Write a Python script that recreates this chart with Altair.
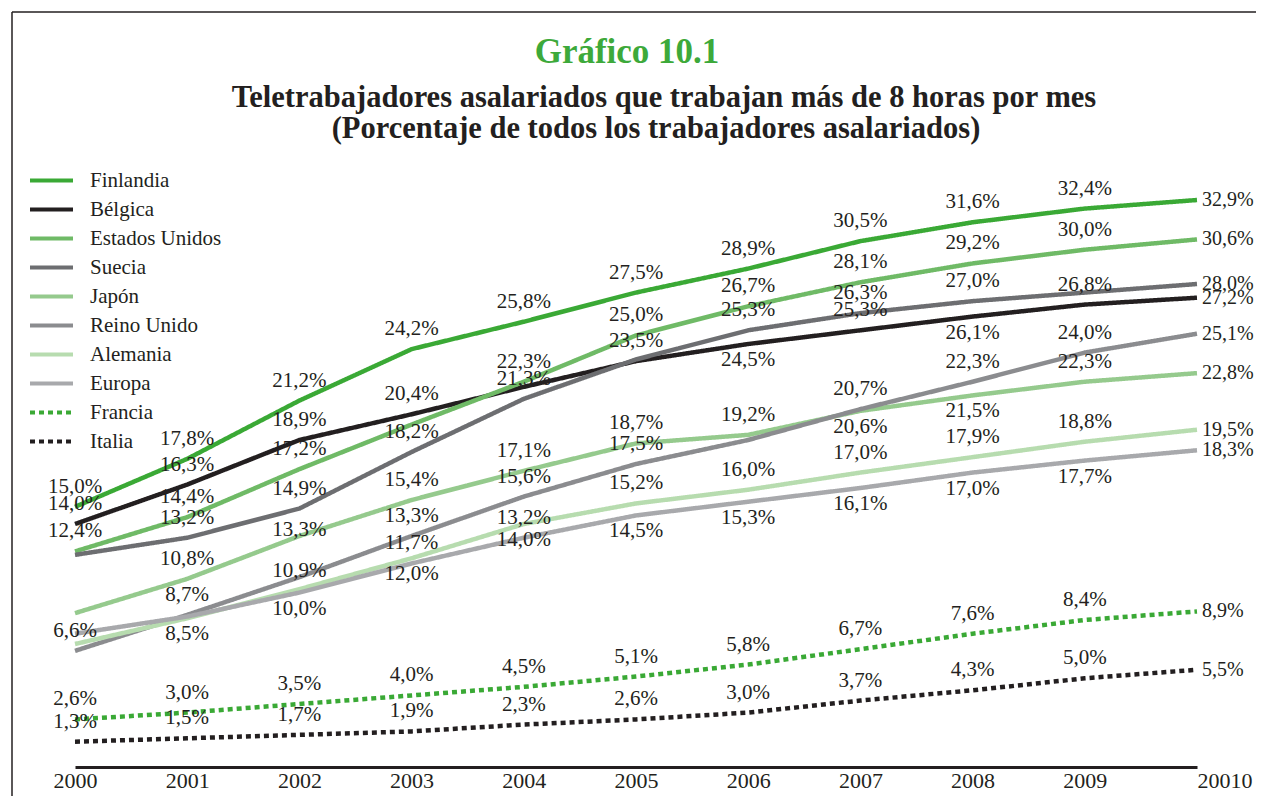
import altair as alt
import pandas as pd

# ---------------- data ----------------
anios = ["2000", "2001", "2002", "2003", "2004", "2005", "2006", "2007", "2008", "2009", "20010"]

series = ["Finlandia", "Bélgica", "Estados Unidos", "Suecia", "Japón",
          "Reino Unido", "Alemania", "Europa", "Francia", "Italia"]

finlandia      = [15.0, 17.8, 21.2, 24.2, 25.8, 27.5, 28.9, 30.5, 31.6, 32.4, 32.9]
belgica        = [14.0, 16.3, 18.9, 20.4, 22.0, 23.5, 24.5, 25.3, 26.1, 26.8, 27.2]
estados_unidos = [12.4, 14.4, 17.2, 19.8, 22.3, 25.0, 26.7, 28.1, 29.2, 30.0, 30.6]
suecia         = [12.2, 13.2, 14.9, 18.2, 21.3, 23.6, 25.3, 26.3, 27.0, 27.5, 28.0]
japon          = [8.8, 10.8, 13.3, 15.4, 17.1, 18.7, 19.2, 20.6, 21.5, 22.3, 22.8]
reino_unido    = [6.6, 8.7, 10.9, 13.3, 15.6, 17.5, 18.9, 20.7, 22.3, 24.0, 25.1]
alemania       = [7.0, 8.5, 10.2, 12.0, 14.0, 15.2, 16.0, 17.0, 17.9, 18.8, 19.5]
europa         = [7.6, 8.6, 10.0, 11.7, 13.2, 14.5, 15.3, 16.1, 17.0, 17.7, 18.3]
francia        = [2.6, 3.0, 3.5, 4.0, 4.5, 5.1, 5.8, 6.7, 7.6, 8.4, 8.9]
italia         = [1.3, 1.5, 1.7, 1.9, 2.3, 2.6, 3.0, 3.7, 4.3, 5.0, 5.5]

valores = [finlandia, belgica, estados_unidos, suecia, japon,
           reino_unido, alemania, europa, francia, italia]

# points whose value label is not printed in the reference
sin_etiqueta = {("Suecia", "2000"), ("Japón", "2000"), ("Alemania", "2000"), ("Europa", "2000"),
                ("Europa", "2001"), ("Alemania", "2002"), ("Estados Unidos", "2003"),
                ("Bélgica", "2004"), ("Suecia", "2005"), ("Reino Unido", "2006"), ("Suecia", "2009")}

# ---------------- styles / layout ----------------
colores = ["#3aa935", "#231f20", "#6fba66", "#6d6e71", "#95ca8d",
           "#8b8c8f", "#b7dcaf", "#a8a9ac", "#3aa935", "#231f20"]
trazos = [[1, 0]] * 8 + [[5, 4], [5, 4]]

# labels drawn under their line instead of above it
debajo = {("Bélgica", "2006"), ("Bélgica", "2008"), ("Japón", "2007"), ("Japón", "2008"),
          ("Alemania", "2001"), ("Alemania", "2003"), ("Alemania", "2004"),
          ("Europa", "2002"), ("Europa", "2005"), ("Europa", "2006"), ("Europa", "2007"),
          ("Europa", "2008"), ("Europa", "2009")}
sobre = {("Japón", "2002"), ("Reino Unido", "2002")}

FONT = "Liberation Serif"
INK = "#231f20"

filas = []
for s, vals in zip(series, valores):
    for a, v in zip(anios, vals):
        if a == anios[-1]:
            pos = "derecha"
        elif (s, a) in debajo:
            pos = "debajo"
        elif (s, a) in sobre:
            pos = "sobre"
        else:
            pos = "encima"
        filas.append({
            "Serie": s, "Año": a, "Valor": v,
            "Etiqueta": f"{v:.1f}".replace(".", ",") + "%",
            "pos": pos,
            "mostrar": (s, a) not in sin_etiqueta,
        })
df = pd.DataFrame(filas)

leyenda = alt.Legend(
    title=None, orient="none", legendX=-47, legendY=2,
    symbolType="stroke", symbolSize=1849, symbolStrokeWidth=4,
    clipHeight=29, rowPadding=0, padding=0,
    labelFont=FONT, labelFontSize=21, labelColor=INK, labelOffset=15, labelLimit=0,
)

x_enc = alt.X(
    "Año:O", sort=anios,
    scale=alt.Scale(type="point", padding=0),
    axis=alt.Axis(
        title=None, labelAngle=0, ticks=False, grid=False,
        domainWidth=3, domainColor=INK, offset=3,
        labelFont=FONT, labelFontSize=22, labelColor=INK, labelPadding=3,
        labelOverlap=False,
        labelAlign={"condition": {"test": "datum.value === '20010'", "value": "left"}, "value": "center"},
    ),
)
y_enc = alt.Y("Valor:Q", scale=alt.Scale(domain=[0, 35], nice=False, zero=True), axis=None)

base = alt.Chart(df)

lineas = base.mark_line(strokeWidth=4.5, strokeCap="butt").encode(
    x=x_enc,
    y=y_enc,
    color=alt.Color("Serie:N", scale=alt.Scale(domain=series, range=colores), legend=leyenda),
    strokeDash=alt.StrokeDash("Serie:N", scale=alt.Scale(domain=series, range=trazos), legend=leyenda),
)

txt = dict(font=FONT, fontSize=21, color=INK, baseline="middle")
etq = base.transform_filter("datum.mostrar")
enc_t = dict(x=x_enc, y=y_enc, text="Etiqueta:N")

encima = etq.transform_filter("datum.pos == 'encima'").mark_text(dy=-20, **txt).encode(**enc_t)
debajo_l = etq.transform_filter("datum.pos == 'debajo'").mark_text(dy=16, **txt).encode(**enc_t)
sobre_l = etq.transform_filter("datum.pos == 'sobre'").mark_text(dy=-6, **txt).encode(**enc_t)
derecha = etq.transform_filter("datum.pos == 'derecha'").mark_text(
    align="left", dx=5, dy=0, font=FONT, fontSize=20, color=INK, baseline="middle"
).encode(**enc_t)

# titles (text marks, placed relative to the plot area)
titulo = alt.Chart(pd.DataFrame({"t": ["Gráfico 10.1"]})).mark_text(
    font=FONT, fontSize=35, fontWeight="bold", color="#3da93a", baseline="alphabetic", align="center"
).encode(text="t:N", x=alt.value(552), y=alt.value(-101))
sub1 = alt.Chart(pd.DataFrame({"t": ["Teletrabajadores asalariados que trabajan más de 8 horas por mes"]})).mark_text(
    font=FONT, fontSize=30.5, fontWeight="bold", color=INK, baseline="alphabetic", align="center"
).encode(text="t:N", x=alt.value(589), y=alt.value(-57))
sub2 = alt.Chart(pd.DataFrame({"t": ["(Porcentaje de todos los trabajadores asalariados)"]})).mark_text(
    font=FONT, fontSize=30.5, fontWeight="bold", color=INK, baseline="alphabetic", align="center"
).encode(text="t:N", x=alt.value(581), y=alt.value(-26))

# partial frame (top and left border of the figure box)
marco = pd.DataFrame({"k": [0]})
borde_sup = alt.Chart(marco).mark_rule(color=INK, strokeWidth=1.5).encode(
    x=alt.value(-63), x2=alt.value(1200), y=alt.value(-152))
borde_izq = alt.Chart(marco).mark_rule(color=INK, strokeWidth=1.5).encode(
    x=alt.value(-63), y=alt.value(-152), y2=alt.value(640))

chart = alt.layer(
    borde_sup, borde_izq, titulo, sub1, sub2,
    lineas, encima, debajo_l, sobre_l, derecha,
).properties(
    width=1122, height=600,
    padding={"left": 67, "top": 156, "right": 59, "bottom": 32},
    autosize=alt.AutoSizeParams(type="none"),
    background="white",
).configure_view(stroke=None)

chart.save("out.html", embed_options={"renderer": "svg", "actions": False})
